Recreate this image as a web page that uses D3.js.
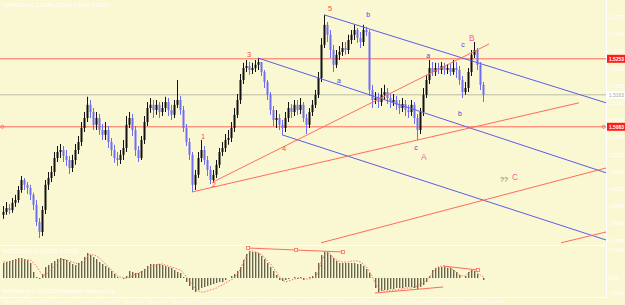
<!DOCTYPE html>
<html>
<head>
<meta charset="utf-8">
<script src="https://cdn.jsdelivr.net/npm/d3@7"></script>
<style>
  body { margin: 0; background: #faf8d2; }
  svg { display: block; font-family: "Liberation Sans", Arial, sans-serif; }
</style>
</head>
<body>
<div id="container"></div>
<script>
/* DATA */
// GBPUSD H1, open of each bar = close of the bar before
const firstOpen = 1.4863
const closes = [
  1.4870,1.4880,1.4875,1.4893,1.4900,1.4925,1.4950,1.4938,1.4930,1.4913,
  1.4888,1.4845,1.4820,1.4875,1.4938,1.4955,1.4970,1.5005,1.5020,1.5025,
  1.5010,1.5000,1.4980,1.5000,1.5025,1.5045,1.5080,1.5105,1.5138,1.5120,
  1.5088,1.5105,1.5075,1.5063,1.5075,1.5045,1.5025,1.5005,1.5000,1.5013,
  1.5030,1.5088,1.5105,1.5075,1.5025,1.5005,1.5050,1.5095,1.5130,1.5138,
  1.5125,1.5138,1.5120,1.5130,1.5145,1.5125,1.5113,1.5138,1.5150,1.5125,
  1.5080,1.5045,1.5013,1.4938,1.4963,1.5005,1.5025,1.5000,1.4975,1.4950,
  1.4963,1.4988,1.5020,1.5030,1.5050,1.5055,1.5080,1.5113,1.5150,1.5200,
  1.5230,1.5235,1.5225,1.5230,1.5238,1.5245,1.5220,1.5195,1.5163,1.5125,
  1.5100,1.5105,1.5088,1.5080,1.5105,1.5130,1.5120,1.5138,1.5125,1.5138,
  1.5105,1.5088,1.5120,1.5138,1.5163,1.5205,1.5288,1.5338,1.5313,1.5275,
  1.5238,1.5263,1.5270,1.5280,1.5275,1.5300,1.5313,1.5325,1.5305,1.5295,
  1.5325,1.5320,1.5175,1.5150,1.5155,1.5145,1.5163,1.5170,1.5155,1.5145,
  1.5150,1.5138,1.5130,1.5140,1.5125,1.5120,1.5138,1.5105,1.5075,1.5120,
  1.5163,1.5200,1.5230,1.5220,1.5230,1.5225,1.5235,1.5225,1.5230,1.5220,
  1.5230,1.5225,1.5200,1.5170,1.5180,1.5220,1.5263,1.5275,1.5238,1.5188,
  1.5163
]
const highs = [
  1.4885,1.4895,1.4890,1.4905,1.4913,1.4935,1.4960,1.4955,1.4945,1.4938,
  1.4918,1.4900,1.4855,1.4885,1.4950,1.4970,1.4985,1.5020,1.5035,1.5040,
  1.5035,1.5025,1.5010,1.5013,1.5040,1.5060,1.5095,1.5120,1.5158,1.5150,
  1.5130,1.5120,1.5115,1.5090,1.5095,1.5085,1.5055,1.5038,1.5020,1.5025,
  1.5050,1.5110,1.5120,1.5115,1.5085,1.5035,1.5060,1.5110,1.5145,1.5155,
  1.5150,1.5150,1.5145,1.5145,1.5158,1.5155,1.5138,1.5150,1.5200,1.5160,
  1.5135,1.5090,1.5055,1.5020,1.4975,1.5020,1.5050,1.5035,1.5010,1.4985,
  1.4975,1.5000,1.5030,1.5045,1.5065,1.5075,1.5095,1.5130,1.5165,1.5215,
  1.5243,1.5250,1.5245,1.5243,1.5250,1.5255,1.5245,1.5225,1.5200,1.5170,
  1.5135,1.5125,1.5115,1.5100,1.5120,1.5145,1.5140,1.5150,1.5150,1.5155,
  1.5145,1.5115,1.5130,1.5150,1.5175,1.5220,1.5305,1.5363,1.5345,1.5325,
  1.5288,1.5275,1.5285,1.5295,1.5295,1.5313,1.5325,1.5338,1.5330,1.5320,
  1.5338,1.5333,1.5325,1.5188,1.5170,1.5168,1.5180,1.5188,1.5180,1.5165,
  1.5165,1.5160,1.5150,1.5155,1.5150,1.5138,1.5150,1.5145,1.5115,1.5130,
  1.5180,1.5213,1.5250,1.5245,1.5243,1.5243,1.5245,1.5243,1.5240,1.5240,
  1.5250,1.5245,1.5235,1.5210,1.5195,1.5230,1.5275,1.5295,1.5280,1.5245,
  1.5195
]
const lows = [
  1.4853,1.4863,1.4865,1.4868,1.4883,1.4893,1.4918,1.4925,1.4915,1.4900,
  1.4875,1.4835,1.4805,1.4810,1.4865,1.4925,1.4945,1.4960,1.4995,1.5005,
  1.4995,1.4985,1.4965,1.4970,1.4988,1.5015,1.5035,1.5070,1.5095,1.5105,
  1.5075,1.5075,1.5063,1.5050,1.5050,1.5030,1.5010,1.4993,1.4985,1.4990,
  1.5000,1.5020,1.5080,1.5060,1.5010,1.4995,1.5000,1.5040,1.5085,1.5118,
  1.5105,1.5113,1.5105,1.5110,1.5120,1.5110,1.5100,1.5105,1.5130,1.5113,
  1.5070,1.5035,1.5000,1.4920,1.4925,1.4955,1.4995,1.4988,1.4960,1.4940,
  1.4943,1.4955,1.4980,1.5010,1.5020,1.5038,1.5045,1.5070,1.5105,1.5140,
  1.5190,1.5220,1.5213,1.5215,1.5220,1.5225,1.5210,1.5180,1.5150,1.5113,
  1.5085,1.5080,1.5075,1.5063,1.5070,1.5095,1.5105,1.5110,1.5113,1.5115,
  1.5095,1.5065,1.5080,1.5110,1.5130,1.5155,1.5195,1.5280,1.5295,1.5255,
  1.5220,1.5230,1.5250,1.5260,1.5263,1.5265,1.5290,1.5300,1.5293,1.5280,
  1.5285,1.5310,1.5160,1.5130,1.5140,1.5130,1.5135,1.5150,1.5140,1.5130,
  1.5135,1.5125,1.5115,1.5120,1.5110,1.5105,1.5110,1.5090,1.5050,1.5065,
  1.5110,1.5155,1.5190,1.5210,1.5210,1.5215,1.5215,1.5213,1.5215,1.5210,
  1.5213,1.5205,1.5188,1.5155,1.5163,1.5170,1.5210,1.5255,1.5225,1.5175,
  1.5145
]
const priceTicks = [1.5357,1.5314,1.5271,1.5228,1.5185,1.5142,1.5099,1.5056,1.5013,1.4970,1.4927,1.4884,1.4841,1.4798]
const redLevels = [1.5253, 1.5083]
const bidPrice = 1.5163

// trend lines: [bar1, price1, bar2, price2]
const blueLines = [[107,1.5363,201,1.5143],[85,1.5255,201,1.4968],[93,1.5063,201,1.4800]]
const redLines = [[70,1.4945,162,1.5290],[63,1.4920,192,1.5143],[106,1.4793,201,1.4980],[186,1.4793,201,1.4820]]

// wave counts: [text, bar, price]
const waveRed = [["5",109,1.5380],["3",82,1.5265],["1",66.7,1.5060],["2",70.3,1.4940],["4",93.7,1.5028]]
const wavePink = [["B",156.3,1.5305],["A",140.3,1.5008],["C",170.7,1.4958]]
const waveBlue = [["b",121.7,1.5363],["a",112,1.5198],["a",141.7,1.5260],["b",152.3,1.5115],["c",153.3,1.5288],["c",137.7,1.5030]]
const waveQuery = [["??",167,1.4950]]

// MACD in points (1 point = 0.00001)
const macdHist = [
  75,80,85,90,95,100,100,95,90,75,
  30,5,-5,20,55,65,75,85,95,100,
  95,90,80,70,65,75,85,105,125,115,
  105,95,80,70,60,50,35,20,5,0,
  -5,10,35,30,25,25,35,45,60,70,
  70,70,70,65,60,55,50,40,30,25,
  5,-20,-40,-60,-70,-60,-50,-45,-40,-35,
  -30,-25,-20,-20,-10,0,10,20,35,55,
  90,120,135,130,130,125,110,95,75,55,
  35,15,-10,-15,-10,-5,0,5,-5,5,
  -10,0,5,10,30,75,115,130,130,115,
  100,85,75,75,75,75,75,75,70,70,
  60,45,25,0,-50,-70,-65,-60,-60,-55,
  -55,-50,-50,-50,-45,-45,-45,-50,-55,-45,
  -35,-20,10,40,50,55,55,55,50,50,
  40,30,15,0,10,30,40,35,20,0,
  -10
]
const macdSignal = [
  80,80,80,85,85,90,90,90,90,90,
  75,60,35,15,15,30,45,60,75,90,
  95,90,85,80,75,70,70,85,110,120,
  115,110,100,85,70,55,40,25,10,5,
  0,0,5,10,20,25,30,40,50,55,
  60,65,70,70,65,60,55,50,45,40,
  25,5,-15,-35,-55,-65,-70,-70,-65,-60,
  -55,-50,-40,-35,-25,-15,-10,5,20,45,
  80,110,130,135,130,125,115,105,85,70,
  50,30,5,-10,-20,-15,-10,-5,0,0,
  -5,-5,-5,0,5,35,85,115,125,120,
  100,90,85,80,80,80,85,85,85,80,
  70,55,30,5,-30,-50,-60,-65,-65,-60,
  -60,-60,-55,-55,-50,-50,-50,-45,-40,-30,
  -25,-10,5,25,45,55,60,60,55,50,
  40,30,15,10,10,25,35,35,25,15,
  5
]
const macdTicks = [140, 0, -75]
const macdLines = [[81.7,150,113.3,130],[124,-75,146.7,-45],[146.7,60,158.3,40]]
const macdAnchors = [[81.7,150],[97.7,140],[113.3,130],[158.3,40]]

const dateLabels = [
  [0,"6 May 2015"],[8,"6 May 22:00"],[16,"7 May 06:00"],[24,"7 May 14:00"],[32,"7 May 22:00"],
  [40,"8 May 06:00"],[48,"8 May 14:00"],[56,"8 May 22:00"],[64,"11 May 06:00"],[72,"11 May 14:00"],
  [80,"11 May 22:00"],[88,"12 May 06:00"],[96,"12 May 14:00"],[104,"12 May 22:00"],[112,"13 May 06:00"],
  [120,"13 May 14:00"],[128,"13 May 22:00"],[136,"14 May 06:00"],[144,"14 May 14:00"],[152,"14 May 22:00"],
  [160,"15 May 06:00"]
]

/* LAYOUT */
const width = 625, height = 305
const plotRight = 606
const mainBottom = 245
const macdTop = 246, macdBottom = 297

const bg = "#faf8d2"
const blueCol = "#5c5ce6"
const redCol = "#ff6a5c"
const bullCol = "#111111"
const bearCol = "#6e6ef2"

const svg = d3.select("#container")
  .append("svg")
  .attr("width", width)
  .attr("height", height)

svg.append("rect").attr("width", width).attr("height", height).attr("fill", bg)

const xScale = d3.scaleLinear().domain([-1, 201]).range([0, plotRight])
const yScale = d3.scaleLinear().domain([1.54, 1.47875]).range([0, mainBottom])
const mScale = d3.scaleLinear().domain([150, -100]).range([248, 298])

const defs = svg.append("defs")
defs.append("clipPath").attr("id", "clipMain")
  .append("rect").attr("x", 0).attr("y", 0).attr("width", plotRight).attr("height", mainBottom)
defs.append("clipPath").attr("id", "clipMacd")
  .append("rect").attr("x", 0).attr("y", macdTop).attr("width", plotRight).attr("height", macdBottom - macdTop)

const main = svg.append("g").attr("clip-path", "url(#clipMain)")
const macd = svg.append("g").attr("clip-path", "url(#clipMacd)")

/* MAIN PANEL */
// horizontal levels
main.selectAll("line.level")
  .data(redLevels)
  .join("line")
  .attr("class", "level")
  .attr("x1", 0).attr("x2", plotRight)
  .attr("y1", d => yScale(d)).attr("y2", d => yScale(d))
  .attr("stroke", redCol).attr("stroke-width", 1)

main.append("line")
  .attr("x1", 0).attr("x2", plotRight)
  .attr("y1", yScale(bidPrice)).attr("y2", yScale(bidPrice))
  .attr("stroke", "#b9bca6").attr("stroke-width", 1)

// little "o" ends of the lower level
main.selectAll("circle.lvlEnd")
  .data([xScale(-0.2), xScale(200.2)])
  .join("circle")
  .attr("class", "lvlEnd")
  .attr("cx", d => d).attr("cy", yScale(redLevels[1]))
  .attr("r", 1.6).attr("fill", "none").attr("stroke", redCol).attr("stroke-width", 0.8)

// candles
const bars = closes.map((c, i) => ({
  i: i,
  o: i === 0 ? firstOpen : closes[i - 1],
  c: c,
  h: highs[i],
  l: lows[i]
}))

const candle = main.selectAll("g.candle")
  .data(bars)
  .join("g")
  .attr("class", "candle")

candle.append("line")
  .attr("x1", d => xScale(d.i) + 0.5).attr("x2", d => xScale(d.i) + 0.5)
  .attr("y1", d => yScale(d.h)).attr("y2", d => yScale(d.l))
  .attr("stroke", d => d.c >= d.o ? bullCol : bearCol)
  .attr("stroke-width", 1)

candle.append("rect")
  .attr("x", d => xScale(d.i) - 0.5)
  .attr("width", 2)
  .attr("y", d => yScale(Math.max(d.o, d.c)))
  .attr("height", d => Math.max(1, Math.abs(yScale(d.o) - yScale(d.c))))
  .attr("fill", d => d.c >= d.o ? bullCol : bearCol)

// trend lines
main.selectAll("line.blueTrend")
  .data(blueLines)
  .join("line")
  .attr("class", "blueTrend")
  .attr("x1", d => xScale(d[0])).attr("y1", d => yScale(d[1]))
  .attr("x2", d => xScale(d[2])).attr("y2", d => yScale(d[3]))
  .attr("stroke", blueCol).attr("stroke-width", 1)

main.selectAll("line.redTrend")
  .data(redLines)
  .join("line")
  .attr("class", "redTrend")
  .attr("x1", d => xScale(d[0])).attr("y1", d => yScale(d[1]))
  .attr("x2", d => xScale(d[2])).attr("y2", d => yScale(d[3]))
  .attr("stroke", redCol).attr("stroke-width", 1)

// wave labels
function drawWave(list, color, size) {
  main.selectAll(null)
    .data(list)
    .join("text")
    .attr("x", d => xScale(d[1]))
    .attr("y", d => yScale(d[2]))
    .attr("dy", "0.35em")
    .attr("text-anchor", "middle")
    .attr("font-size", size + "px")
    .attr("fill", color)
    .text(d => d[0])
}
drawWave(waveRed, "#ff4a4a", 7.5)
drawWave(wavePink, "#ff5c9c", 8.5)
drawWave(waveBlue, "#4848d8", 7)
drawWave(waveQuery, "#6e6e3a", 7)

/* MACD PANEL */
macd.selectAll("rect.histFill")
  .data(macdHist)
  .join("rect")
  .attr("class", "histFill")
  .attr("x", (d, i) => xScale(i) + 1)
  .attr("width", 1)
  .attr("y", d => Math.min(mScale(d), mScale(0)))
  .attr("height", d => Math.abs(mScale(d) - mScale(0)))
  .attr("fill", "#c2c0a0")

macd.selectAll("rect.hist")
  .data(macdHist)
  .join("rect")
  .attr("class", "hist")
  .attr("x", (d, i) => xScale(i))
  .attr("width", 1)
  .attr("y", d => Math.min(mScale(d), mScale(0)))
  .attr("height", d => Math.abs(mScale(d) - mScale(0)))
  .attr("fill", "#66664e")

macd.append("path")
  .datum(macdSignal)
  .attr("d", d3.line().x((d, i) => xScale(i) + 0.5).y(d => mScale(d)))
  .attr("fill", "none")
  .attr("stroke", redCol)
  .attr("stroke-width", 1)
  .attr("stroke-dasharray", "1.5,1.5")

macd.selectAll("line.mTrend")
  .data(macdLines)
  .join("line")
  .attr("class", "mTrend")
  .attr("x1", d => xScale(d[0])).attr("y1", d => mScale(d[1]))
  .attr("x2", d => xScale(d[2])).attr("y2", d => mScale(d[3]))
  .attr("stroke", redCol).attr("stroke-width", 1)

macd.selectAll("rect.anchor")
  .data(macdAnchors)
  .join("rect")
  .attr("class", "anchor")
  .attr("x", d => xScale(d[0]) - 1.5).attr("y", d => mScale(d[1]) - 1.5)
  .attr("width", 3).attr("height", 3)
  .attr("fill", bg).attr("stroke", redCol).attr("stroke-width", 0.8)

/* FRAME AND AXES */
svg.append("line")
  .attr("x1", plotRight + 0.5).attr("x2", plotRight + 0.5)
  .attr("y1", 0).attr("y2", macdBottom)
  .attr("stroke", "#ffffff")
svg.append("line")
  .attr("x1", 0).attr("x2", plotRight)
  .attr("y1", macdTop - 0.5).attr("y2", macdTop - 0.5)
  .attr("stroke", "#ffffff")
svg.append("line")
  .attr("x1", 0).attr("x2", plotRight)
  .attr("y1", macdBottom + 0.5).attr("y2", macdBottom + 0.5)
  .attr("stroke", "#ffffff")

const fmt4 = d3.format(".4f")
const axisX = plotRight + 3
const axisLen = 15

svg.selectAll("text.pTick")
  .data(priceTicks)
  .join("text")
  .attr("class", "pTick")
  .attr("x", axisX)
  .attr("y", d => yScale(d))
  .attr("dy", "0.35em")
  .attr("font-size", "5px")
  .attr("textLength", axisLen).attr("lengthAdjust", "spacingAndGlyphs")
  .attr("fill", "#ffffff")
  .text(d => fmt4(d))

svg.selectAll("line.pTickMark")
  .data(priceTicks)
  .join("line")
  .attr("class", "pTickMark")
  .attr("x1", plotRight).attr("x2", plotRight + 2)
  .attr("y1", d => yScale(d)).attr("y2", d => yScale(d))
  .attr("stroke", "#ffffff")

// price boxes on the right axis
svg.selectAll("rect.lvlBox")
  .data(redLevels)
  .join("rect")
  .attr("class", "lvlBox")
  .attr("x", plotRight + 1).attr("y", d => yScale(d) - 4)
  .attr("width", width - plotRight - 1).attr("height", 8)
  .attr("fill", "#ff1c1c")
svg.selectAll("text.lvlText")
  .data(redLevels)
  .join("text")
  .attr("class", "lvlText")
  .attr("x", axisX).attr("y", d => yScale(d))
  .attr("dy", "0.35em")
  .attr("font-size", "5px").attr("font-weight", "bold")
  .attr("textLength", axisLen).attr("lengthAdjust", "spacingAndGlyphs")
  .attr("fill", "#ffffff")
  .text(d => fmt4(d))

svg.append("rect")
  .attr("x", plotRight + 1).attr("y", yScale(bidPrice) - 4)
  .attr("width", width - plotRight - 1).attr("height", 8)
  .attr("fill", "#ffffff")
svg.append("text")
  .attr("x", axisX).attr("y", yScale(bidPrice))
  .attr("dy", "0.35em")
  .attr("font-size", "5px")
  .attr("textLength", axisLen).attr("lengthAdjust", "spacingAndGlyphs")
  .attr("fill", "#a8a8a0")
  .text(fmt4(bidPrice))

svg.selectAll("text.mTick")
  .data(macdTicks)
  .join("text")
  .attr("class", "mTick")
  .attr("x", axisX)
  .attr("y", d => mScale(d))
  .attr("dy", "0.35em")
  .attr("font-size", "4.5px")
  .attr("textLength", d => d === 0 ? 9 : axisLen).attr("lengthAdjust", "spacingAndGlyphs")
  .attr("fill", "#ffffff")
  .text(d => d === 0 ? "0.00" : d3.format(".4f")(d / 100000))

// time axis
svg.selectAll("text.date")
  .data(dateLabels)
  .join("text")
  .attr("class", "date")
  .attr("x", d => xScale(d[0]) + 1)
  .attr("y", 303)
  .attr("font-size", "4px")
  .attr("textLength", d => d[1].length > 11 ? 21 : 19)
  .attr("lengthAdjust", "spacingAndGlyphs")
  .attr("fill", "#ffffff")
  .text(d => d[1])

svg.selectAll("line.dateMark")
  .data(dateLabels)
  .join("line")
  .attr("class", "dateMark")
  .attr("x1", d => xScale(d[0])).attr("x2", d => xScale(d[0]))
  .attr("y1", macdBottom).attr("y2", macdBottom + 2.5)
  .attr("stroke", "#ffffff")

// titles
svg.append("text")
  .attr("x", 3).attr("y", 7)
  .attr("font-size", "5.5px").attr("fill", "#ffffff")
  .text("GBPUSD,H1  1.5188 1.5195 1.5145 1.5163")

svg.append("text")
  .attr("x", 3).attr("y", 253)
  .attr("font-size", "5px").attr("fill", "#ffffff")
  .text("MACD(12,26,9) -0.00010 0.00005")

svg.append("text")
  .attr("x", 3).attr("y", 293)
  .attr("font-size", "4.5px").attr("fill", "#ffffff")
  .text("MetaTrader 4, © 2001-2015 MetaQuotes Software Corp.")
</script>
</body>
</html>
